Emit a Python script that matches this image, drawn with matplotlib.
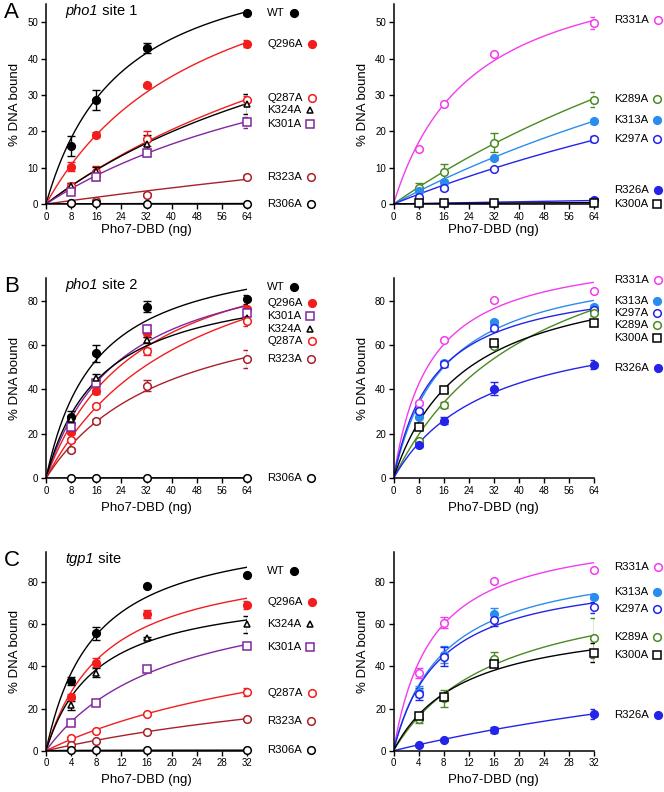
import matplotlib
matplotlib.use('Agg')
import matplotlib.pyplot as plt
import matplotlib.transforms as mtransforms
import numpy as np

plt.rcParams['font.family'] = ['Liberation Sans', 'DejaVu Sans']

# doses (ng)
dose_64 = [8, 16, 32, 64]
dose_32 = [4, 8, 16, 32]

# --- A: pho1 site 1 ---
names_a1 = ['WT', 'Q296A', 'Q287A', 'K324A', 'K301A', 'R323A', 'R306A']
y_a1 = [[16.0, 28.6, 42.8, 52.4],
        [10.3, 19.1, 32.6, 44.1],
        [4.9, 8.9, 18.0, 28.6],
        [5.0, 9.0, 16.5, 27.5],
        [3.4, 7.3, 14.1, 22.5],
        [0.3, 0.9, 2.6, 7.5],
        [0.2, 0.2, 0.1, 0.1]]
err_a1 = [[2.7, 2.8, 1.4, 0.3],
          [1.3, 0.8, 0.4, 1.0],
          [0.8, 1.5, 2.0, 1.2],
          [0.8, 1.2, 2.5, 2.8],
          [0.5, 0.8, 1.0, 1.5],
          [0.2, 0.3, 0.4, 0.6],
          [0, 0, 0, 0]]
bmax_a1 = [72.9, 80.4, 91.2, 79.4, 61.7, 59.9, 0.15]
kd_a1 = [24.2, 51.7, 138.6, 120, 110, 500, 10]

names_a2 = ['R331A', 'K289A', 'K313A', 'K297A', 'R326A', 'K300A']
y_a2 = [[15.2, 27.6, 41.2, 49.7],
        [4.5, 8.8, 16.8, 28.7],
        [3.5, 6.0, 12.6, 22.7],
        [2.0, 4.3, 9.7, 17.8],
        [0.2, 0.3, 0.4, 1.0],
        [0.2, 0.2, 0.3, 0.4]]
err_a2 = [[0.3, 0.3, 0.3, 1.6],
          [1.2, 2.2, 2.6, 2.0],
          [0.3, 0.4, 0.4, 0.8],
          [0.3, 0.5, 0.3, 0.8],
          [0, 0, 0, 0.3],
          [0, 0, 0, 0]]
bmax_a2 = [70.5, 117.8, 103.7, 86.4, 10.0, 1.0]
kd_a2 = [25.3, 196, 227, 250, 600, 100]

# --- B: pho1 site 2 ---
names_b1 = ['WT', 'Q296A', 'K301A', 'K324A', 'Q287A', 'R323A', 'R306A']
y_b1 = [[27.8, 56.3, 77.3, 80.6],
        [21.0, 39.3, 65.3, 76.1],
        [23.3, 43.1, 67.3, 74.3],
        [26.5, 45.0, 62.3, 72.0],
        [17.3, 32.7, 57.1, 70.6],
        [12.8, 25.8, 41.7, 53.8],
        [0.2, 0.1, 0.1, 0.2]]
err_b1 = [[2.6, 3.8, 2.5, 2.0],
          [1.0, 1.5, 1.5, 2.0],
          [1.0, 1.0, 1.5, 1.5],
          [1.5, 2.0, 1.5, 1.5],
          [0.8, 0.8, 1.5, 2.0],
          [0.8, 0.8, 2.5, 4.0],
          [0, 0, 0, 0]]
bmax_b1 = [106.2, 114.2, 105.9, 92.4, 123.6, 87.8, 0.2]
kd_b1 = [15.9, 29.7, 23.3, 17.6, 45.7, 39.1, 10]

names_b2 = ['R331A', 'K313A', 'K297A', 'K289A', 'K300A', 'R326A']
y_b2 = [[33.7, 62.2, 80.4, 84.2],
        [27.6, 52.0, 70.3, 77.2],
        [30.3, 51.5, 67.7, 75.7],
        [16.8, 33.0, 59.5, 74.5],
        [23.2, 39.7, 60.7, 69.7],
        [15.0, 26.0, 40.3, 51.1]]
err_b2 = [[0.5, 0.5, 0.5, 0.5],
          [0.5, 1.0, 1.0, 1.0],
          [0.8, 1.5, 1.5, 1.0],
          [1.0, 1.5, 1.0, 1.5],
          [1.0, 0.8, 1.0, 1.0],
          [1.0, 1.5, 3.0, 2.0]]
bmax_b2 = [104.4, 100.1, 91.9, 129.2, 97.0, 75.1]
kd_b2 = [11.75, 16.0, 13.1, 44.8, 22.8, 30.2]

# --- C: tgp1 site ---
names_c1 = ['WT', 'Q296A', 'K324A', 'K301A', 'Q287A', 'R323A', 'R306A']
y_c1 = [[33.1, 55.8, 78.3, 83.5],
        [25.7, 41.8, 65.0, 69.1],
        [21.5, 37.1, 53.4, 60.0],
        [13.3, 22.8, 38.7, 49.9],
        [6.0, 9.5, 17.4, 28.0],
        [2.5, 4.6, 9.0, 14.9],
        [0.2, 0.2, 0.2, 0.3]]
err_c1 = [[2.0, 3.0, 0.5, 0.5],
          [1.0, 2.0, 2.0, 2.0],
          [2.0, 2.0, 0.5, 4.0],
          [0.5, 0.5, 0.5, 0.5],
          [0.3, 0.3, 0.5, 2.0],
          [0.3, 0.3, 0.3, 0.3],
          [0, 0, 0, 0]]
bmax_c1 = [108.2, 93.8, 78.0, 81.9, 70.0, 48.8, 0.3]
kd_c1 = [7.74, 9.45, 8.2, 19.9, 48.0, 70.8, 5]

names_c2 = ['R331A', 'K313A', 'K297A', 'K289A', 'K300A', 'R326A']
y_c2 = [[36.8, 60.8, 80.6, 85.9],
        [28.0, 45.5, 65.0, 72.9],
        [26.9, 44.7, 62.1, 68.1],
        [15.1, 24.9, 43.4, 53.4],
        [16.5, 25.3, 41.2, 46.6],
        [2.7, 5.1, 9.8, 17.4]]
err_c2 = [[2.5, 2.5, 0.5, 0.5],
          [2.5, 4.0, 3.0, 0.8],
          [3.0, 4.5, 3.0, 2.5],
          [2.0, 4.0, 3.5, 9.5],
          [1.0, 1.0, 1.0, 4.5],
          [0.5, 0.5, 1.5, 2.5]]
bmax_c2 = [106.6, 93.2, 86.3, 83.5, 64.8, 70.0]
kd_c2 = [6.2, 8.04, 7.35, 16.75, 11.2, 96.0]

# style per mutant: colour, marker, filled
styles = {
    'WT': ('#000000', 'o', True),
    'Q296A': ('#f21d1d', 'o', True),
    'Q287A': ('#f21d1d', 'o', False),
    'K324A': ('#000000', '^', False),
    'K301A': ('#80279e', 's', False),
    'R323A': ('#a8202a', 'o', False),
    'R306A': ('#000000', 'o', False),
    'R331A': ('#f23cee', 'o', False),
    'K289A': ('#4a8a22', 'o', False),
    'K313A': ('#2b8cf0', 'o', True),
    'K297A': ('#2424e8', 'o', False),
    'R326A': ('#2424e8', 'o', True),
    'K300A': ('#000000', 's', False),
}

W, H = 664, 792
fig = plt.figure(figsize=(W / 100, H / 100), dpi=100)


def make_axes(x0, x1, ytop, ybot):
    return fig.add_axes([x0 / W, 1 - ybot / H, (x1 - x0) / W, (ybot - ytop) / H])


def draw_panel(ax, dose, names, ys, errs, bmax, kd, label_y, ylim, yticks, xmax, xstep, xlab_y):
    xs = np.linspace(0, xmax, 200)
    for name, y, e, b, k in zip(names, ys, errs, bmax, kd):
        color, mk, filled = styles[name]
        ax.plot(xs, b * xs / (k + xs), color=color, lw=1.0, zorder=2)
        ax.errorbar(dose, y, yerr=e, fmt='none', ecolor=color, elinewidth=1.0,
                    capsize=2.6, capthick=1.0, zorder=3)
        ax.plot(dose, y, linestyle='none', marker=mk, markersize=5.5 if mk != '^' else 5,
                markeredgecolor=color, markeredgewidth=1.1,
                markerfacecolor=color if filled else 'white', zorder=4, clip_on=False)
    ax.set_xlim(0, xmax)
    ax.set_ylim(0, ylim)
    ax.set_xticks(np.arange(0, xmax + 1, xstep))
    ax.set_yticks(yticks)
    for s in ['top', 'right']:
        ax.spines[s].set_visible(False)
    for s in ['left', 'bottom']:
        ax.spines[s].set_linewidth(1.1)
    ax.tick_params(labelsize=7, width=1.0, length=3.5, pad=2)
    ax.set_xlabel('Pho7-DBD (ng)', fontsize=9.5)
    ax.set_ylabel('% DNA bound', fontsize=9.5)
    ax.xaxis.set_label_coords(0.5, xlab_y)
    ax.yaxis.set_label_coords(-0.122, 0.5)

    # right-hand key: label then marker
    trans = mtransforms.blended_transform_factory(ax.transAxes, ax.transData)
    texts = []
    for name, ly in zip(names, label_y):
        t = ax.text(1.10, ly, name, transform=trans, fontsize=8.2, va='center', ha='left')
        texts.append(t)
    fig.canvas.draw()
    r = fig.canvas.get_renderer()
    bb_ax = ax.get_window_extent(r)
    for name, ly, t in zip(names, label_y, texts):
        color, mk, filled = styles[name]
        bb = t.get_window_extent(r)
        xa = (bb.x1 + 9 - bb_ax.x0) / bb_ax.width
        ax.plot([xa], [ly], transform=trans, clip_on=False, marker=mk,
                markersize=5.5 if mk != '^' else 5, markeredgecolor=color,
                markeredgewidth=1.1, markerfacecolor=color if filled else 'white')


ax_a1 = make_axes(46, 247, 4, 204)
ax_a2 = make_axes(393.5, 594, 4, 204)
ax_b1 = make_axes(46, 247, 278.3, 478.3)
ax_b2 = make_axes(393.5, 594, 278.3, 478.3)
ax_c1 = make_axes(46, 247, 551.7, 750.7)
ax_c2 = make_axes(393.5, 594, 551.7, 750.7)

draw_panel(ax_a1, dose_64, names_a1, y_a1, err_a1, bmax_a1, kd_a1,
           [52.5, 44, 29.2, 25.9, 22.0, 7.3, 0], 55, np.arange(0, 51, 10), 64, 8, -0.10)
draw_panel(ax_a2, dose_64, names_a2, y_a2, err_a2, bmax_a2, kd_a2,
           [50.6, 28.9, 23.2, 18, 3.8, 0], 55, np.arange(0, 51, 10), 64, 8, -0.10)
draw_panel(ax_b1, dose_64, names_b1, y_b1, err_b1, bmax_b1, kd_b1,
           [86.3, 78.8, 73.1, 67.1, 61.9, 53.6, 0], 90, np.arange(0, 81, 20), 64, 8, -0.12)
draw_panel(ax_b2, dose_64, names_b2, y_b2, err_b2, bmax_b2, kd_b2,
           [89.4, 79.7, 74.5, 69.2, 63.2, 49.7], 90, np.arange(0, 81, 20), 64, 8, -0.12)
draw_panel(ax_c1, dose_32, names_c1, y_c1, err_c1, bmax_c1, kd_c1,
           [85.5, 70.8, 60.2, 49.4, 27.2, 14.3, 0.3], 94.5, np.arange(0, 81, 20), 32, 4, -0.115)
draw_panel(ax_c2, dose_32, names_c2, y_c2, err_c2, bmax_c2, kd_c2,
           [87.4, 75.2, 67.2, 53.9, 45.5, 17], 94.5, np.arange(0, 81, 20), 32, 4, -0.115)

# site titles
for ax, gene, rest in [(ax_a1, 'pho1', ' site 1'), (ax_b1, 'pho1', ' site 2'), (ax_c1, 'tgp1', ' site')]:
    t = ax.text(0.095, 0.965, gene, transform=ax.transAxes, fontsize=10.5, style='italic',
                va='center', ha='left')
    fig.canvas.draw()
    r = fig.canvas.get_renderer()
    bb = t.get_window_extent(r)
    bb_ax = ax.get_window_extent(r)
    ax.text((bb.x1 - bb_ax.x0) / bb_ax.width, 0.965, rest, transform=ax.transAxes,
            fontsize=10.5, va='center', ha='left')

# panel letters
for letter, yc in [('A', 12), ('B', 287), ('C', 560)]:
    fig.text(4 / W, 1 - yc / H, letter, fontsize=16, va='center', ha='left')

fig.savefig('out.png', dpi=100)
